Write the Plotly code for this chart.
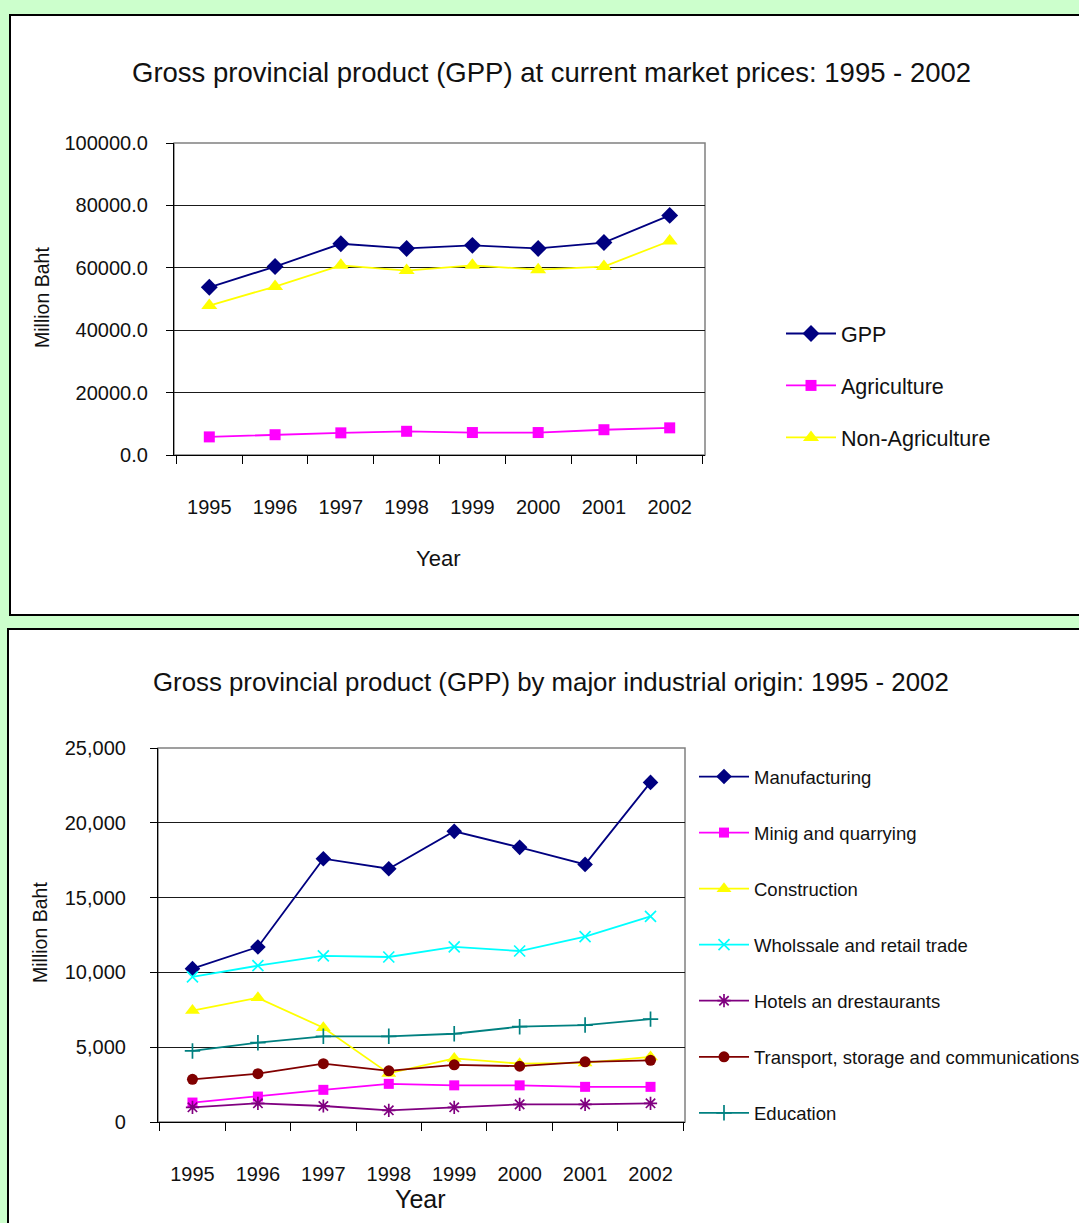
import plotly.graph_objects as go

# ---- data -------------------------------------------------------------
years = ["1995", "1996", "1997", "1998", "1999", "2000", "2001", "2002"]

gpp = [53750, 60400, 67700, 66200, 67200, 66200, 68100, 76800]
agriculture = [5800, 6500, 7100, 7600, 7200, 7200, 8100, 8700]
non_agriculture = [47900, 54000, 60800, 59100, 60800, 59400, 60400, 68600]

manufacturing = [10250, 11700, 17600, 16930, 19430, 18360, 17220, 22700]
mining = [1300, 1700, 2150, 2550, 2450, 2450, 2350, 2350]
construction = [7450, 8300, 6300, 3250, 4250, 3900, 3950, 4350]
wholesale = [9700, 10450, 11100, 11030, 11700, 11430, 12390, 13750]
hotels = [980, 1250, 1070, 780, 980, 1180, 1180, 1250]
transport = [2850, 3230, 3900, 3420, 3820, 3730, 4020, 4120]
education = [4750, 5300, 5730, 5730, 5900, 6370, 6480, 6880]

NAVY = "#000080"
MAGENTA = "#ff00ff"
YELLOW = "#ffff00"
CYAN = "#00ffff"
PURPLE = "#800080"
MAROON = "#800000"
TEAL = "#008080"

FONT = "Liberation Sans, Arial, sans-serif"
W, H = 1079, 1223


# pixel positions -> paper fractions
def px_x(v):
    return v / W


def px_y(v):
    return 1 - v / H


fig = go.Figure()


def add_series(name, xs, ys, color, symbol, size, legend, group, xa, ya, open_sym=False):
    marker = dict(symbol=symbol, size=size, color=color)
    if open_sym:
        marker["line"] = dict(color=color, width=1.7)
    else:
        marker["line"] = dict(width=0)
    fig.add_trace(go.Scatter(
        x=xs, y=ys, name=name, mode="lines+markers",
        line=dict(color=color, width=1.8), marker=marker,
        legend=legend, legendgroup=group, xaxis=xa, yaxis=ya,
    ))


# upper chart
add_series("GPP", years, gpp, NAVY, "diamond", 13, "legend", "a1", "x", "y")
add_series("Agriculture", years, agriculture, MAGENTA, "square", 11, "legend", "a2", "x", "y")
add_series("Non-Agriculture", years, non_agriculture, YELLOW, "triangle-up", 14, "legend", "a3", "x", "y")

# lower chart
add_series("Manufacturing", years, manufacturing, NAVY, "diamond", 12, "legend2", "b1", "x2", "y2")
add_series("Minig and quarrying", years, mining, MAGENTA, "square", 10, "legend2", "b2", "x2", "y2")
add_series("Construction", years, construction, YELLOW, "triangle-up", 13, "legend2", "b3", "x2", "y2")
add_series("Wholssale and retail trade", years, wholesale, CYAN, "x-thin-open", 11, "legend2", "b4", "x2", "y2", True)
add_series("Hotels an drestaurants", years, hotels, PURPLE, "asterisk-open", 11, "legend2", "b5", "x2", "y2", True)
add_series("Transport, storage and communications", years, transport, MAROON, "circle", 11, "legend2", "b6", "x2", "y2")
add_series("Education", years, education, TEAL, "cross-thin-open", 11, "legend2", "b7", "x2", "y2", True)

xaxis_common = dict(
    type="category", tickson="boundaries", ticks="outside", ticklen=8,
    tickcolor="black", showline=True, linecolor="black", linewidth=1.2,
    showgrid=False, zeroline=False, fixedrange=True, automargin=False,
    tickfont=dict(family=FONT, size=20, color="#111"),
)
yaxis_common = dict(
    ticks="outside", ticklen=7, tickcolor="black", showline=True,
    linecolor="black", linewidth=1.2, showgrid=True, gridcolor="#1a1a1a",
    gridwidth=1, zeroline=False, fixedrange=True, automargin=False,
    tickfont=dict(family=FONT, size=20, color="#111"),
)

fig.update_layout(
    width=W, height=H,
    margin=dict(l=0, r=0, t=0, b=0, autoexpand=False),
    paper_bgcolor="#ccffcc",
    plot_bgcolor="#c0c0c0",
    showlegend=True,
    xaxis=dict(xaxis_common, domain=[px_x(174), px_x(705)], anchor="y", ticklabelstandoff=34),
    yaxis=dict(yaxis_common, domain=[px_y(455), px_y(143)], anchor="x",
               range=[0, 100000], dtick=20000, tickformat=".1f", ticklabelstandoff=14),
    xaxis2=dict(xaxis_common, domain=[px_x(158), px_x(685)], anchor="y2", ticklabelstandoff=34),
    yaxis2=dict(yaxis_common, domain=[px_y(1122), px_y(748)], anchor="x2",
                range=[0, 25000], dtick=5000, tickformat=",d", ticklabelstandoff=20),
    legend=dict(
        x=px_x(781), xanchor="left", y=px_y(313), yanchor="top",
        bgcolor="rgba(0,0,0,0)", borderwidth=0, traceorder="grouped",
        tracegroupgap=21, itemwidth=50,
        font=dict(family=FONT, size=21.5, color="#111"),
    ),
    legend2=dict(
        x=px_x(694), xanchor="left", y=px_y(758), yanchor="top",
        bgcolor="rgba(0,0,0,0)", borderwidth=0, traceorder="grouped",
        tracegroupgap=29, itemwidth=50,
        font=dict(family=FONT, size=18.5, color="#111"),
    ),
)

# white panels with black frames behind each chart
fig.add_shape(type="rect", xref="paper", yref="paper",
              x0=px_x(10), x1=1.05, y0=px_y(615), y1=px_y(15),
              fillcolor="white", line=dict(color="black", width=2), layer="below")
fig.add_shape(type="rect", xref="paper", yref="paper",
              x0=px_x(8), x1=1.05, y0=-0.05, y1=px_y(629),
              fillcolor="white", line=dict(color="black", width=2), layer="below")

# grey plot-area outlines
for xr, yr in (("x domain", "y domain"), ("x2 domain", "y2 domain")):
    fig.add_shape(type="rect", xref=xr, yref=yr, x0=0, x1=1, y0=0, y1=1,
                  line=dict(color="#808080", width=1.5), layer="below")

# titles and axis titles
texts = [
    ("Gross provincial product (GPP) at current market prices: 1995 - 2002", 551, 73, 27.5, 0),
    ("Gross provincial product (GPP) by major industrial origin: 1995 - 2002", 551, 682, 25.8, 0),
    ("Million Baht", 42, 298, 19.5, -90),
    ("Million Baht", 40, 933, 19.5, -90),
    ("Year", 438, 558, 22, 0),
    ("Year", 420, 1199, 25, 0),
]
for txt, cx, cy, size, ang in texts:
    fig.add_annotation(
        text=txt, x=px_x(cx), y=px_y(cy), xref="paper", yref="paper",
        xanchor="center", yanchor="middle", showarrow=False, textangle=ang,
        font=dict(family=FONT, size=size, color="#111"),
    )

fig.write_html("out.html")
